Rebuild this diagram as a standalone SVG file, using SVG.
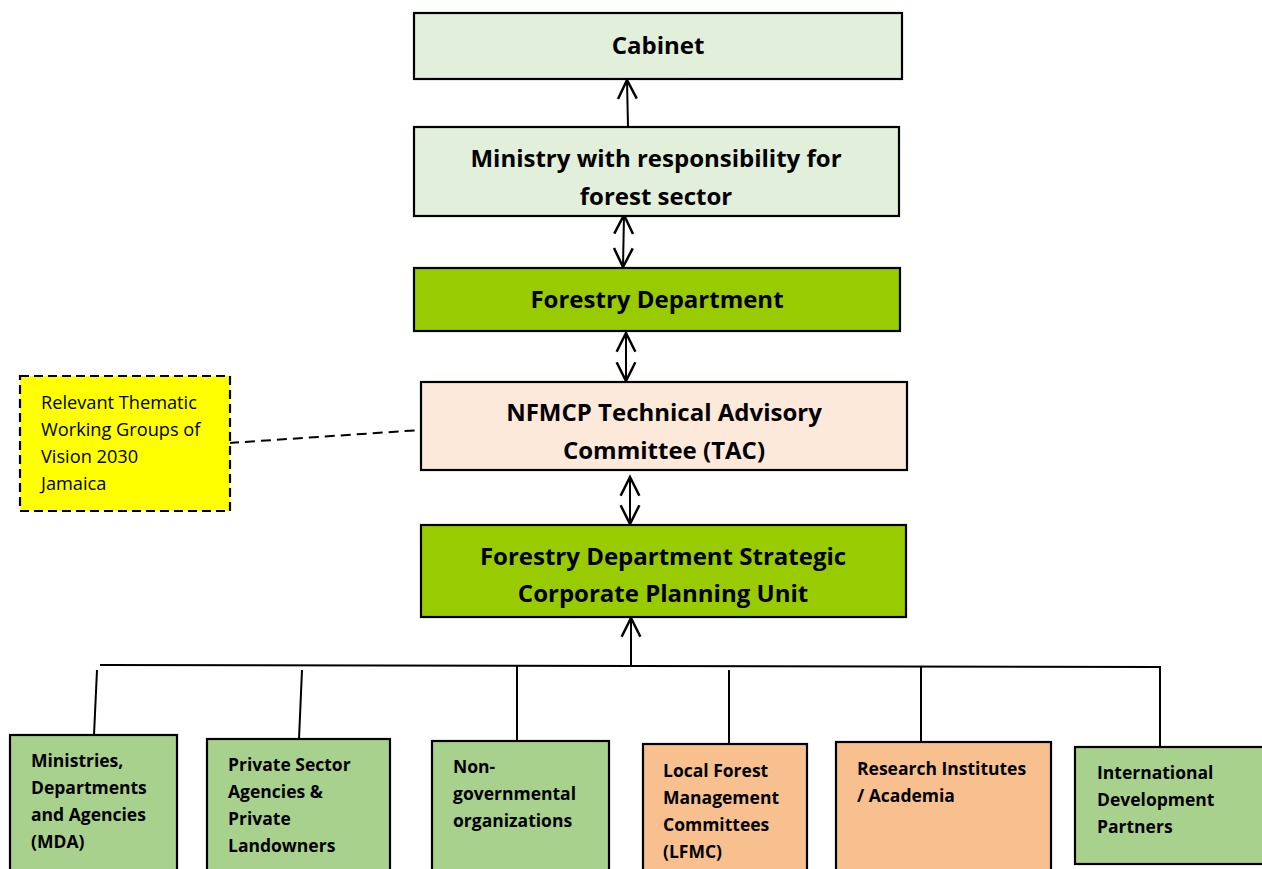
<svg xmlns="http://www.w3.org/2000/svg" width="1262" height="869" viewBox="0 0 1262 869">
<defs>
<marker id="ah" markerUnits="userSpaceOnUse" markerWidth="30" markerHeight="30" viewBox="-20 -12 24 24" refX="0" refY="0" orient="auto-start-reverse">
<path d="M-15,-7.5 L0,0 L-15,7.5" fill="none" stroke="#000" stroke-width="2"/>
</marker>
</defs>
<style>
.box{stroke:#000;stroke-width:2.2}
.pale{fill:#E2EFDA}
.lime{fill:#99CC00}
.peach{fill:#FCE9DA}
.green{fill:#A9D18E}
.orange{fill:#F8C08F}
.t{font-family:"Open Sans","Liberation Sans",sans-serif;font-weight:bold;font-size:24px;fill:#000;text-anchor:middle;dominant-baseline:central}
.s{font-family:"Open Sans","Liberation Sans",sans-serif;font-weight:bold;font-size:17.5px;fill:#000;dominant-baseline:central}
.y{font-family:"Open Sans","Liberation Sans",sans-serif;font-size:18.2px;fill:#000;dominant-baseline:central}
.c{stroke:#000;stroke-width:2;fill:none}
</style>
<g id="connectors">
<line class="c" x1="628" y1="127" x2="627" y2="80" marker-end="url(#ah)"/>
<line class="c" x1="624" y1="215" x2="623" y2="267" marker-start="url(#ah)" marker-end="url(#ah)"/>
<line class="c" x1="626" y1="333" x2="626" y2="381" marker-start="url(#ah)" marker-end="url(#ah)"/>
<line class="c" x1="630" y1="477" x2="630" y2="524" marker-start="url(#ah)" marker-end="url(#ah)"/>
<line class="c" x1="631" y1="666" x2="631" y2="618" marker-end="url(#ah)"/>
<line class="c" x1="229" y1="443" x2="421" y2="430" stroke-dasharray="10,6"/>
<polyline class="c" points="100,665 1160,667 1160,747"/>
<line class="c" x1="97" y1="670" x2="94" y2="735"/>
<line class="c" x1="302" y1="670" x2="299" y2="739"/>
<line class="c" x1="517" y1="666" x2="517" y2="746"/>
<line class="c" x1="729" y1="670" x2="729" y2="744"/>
<line class="c" x1="921" y1="667" x2="921" y2="742"/>
</g>
<g id="cabinet">
<rect class="box pale" x="414" y="13" width="488" height="66"/>
<text class="t" x="658" y="44">Cabinet</text>
</g>
<g id="ministry">
<rect class="box pale" x="414" y="127" width="485" height="89"/>
<text class="t" x="656" y="157">Ministry with responsibility for</text>
<text class="t" x="656" y="195">forest sector</text>
</g>
<g id="forestry-department">
<rect class="box lime" x="414" y="268" width="486" height="63"/>
<text class="t" x="657" y="298">Forestry Department</text>
</g>
<g id="tac">
<rect class="box peach" x="421" y="382" width="486" height="88"/>
<text class="t" x="664" y="411">NFMCP Technical Advisory</text>
<text class="t" x="664" y="449">Committee (TAC)</text>
</g>
<g id="thematic-groups">
<rect x="20" y="376" width="210" height="135" fill="#FFFF00" stroke="#000" stroke-width="2.2" stroke-dasharray="9,5"/>
<text class="y" x="41" y="402">Relevant Thematic</text>
<text class="y" x="41" y="429">Working Groups of</text>
<text class="y" x="41" y="456">Vision 2030</text>
<text class="y" x="41" y="483">Jamaica</text>
</g>
<g id="strategic-unit">
<rect class="box lime" x="421" y="525" width="485" height="92"/>
<text class="t" x="663" y="555">Forestry Department Strategic</text>
<text class="t" x="663" y="592">Corporate Planning Unit</text>
</g>
<g id="mda">
<rect class="box green" x="10" y="735" width="167" height="140"/>
<text class="s" x="31" y="760">Ministries,</text>
<text class="s" x="31" y="787">Departments</text>
<text class="s" x="31" y="814">and Agencies</text>
<text class="s" x="31" y="841">(MDA)</text>
</g>
<g id="private-sector">
<rect class="box green" x="207" y="739" width="183" height="140"/>
<text class="s" x="228" y="764">Private Sector</text>
<text class="s" x="228" y="791">Agencies &amp;</text>
<text class="s" x="228" y="818">Private</text>
<text class="s" x="228" y="845">Landowners</text>
</g>
<g id="ngo">
<rect class="box green" x="432" y="741" width="177" height="140"/>
<text class="s" x="453" y="766">Non-</text>
<text class="s" x="453" y="793">governmental</text>
<text class="s" x="453" y="820">organizations</text>
</g>
<g id="lfmc">
<rect class="box orange" x="643" y="744" width="164" height="140"/>
<text class="s" x="663" y="770">Local Forest</text>
<text class="s" x="663" y="797">Management</text>
<text class="s" x="663" y="824">Committees</text>
<text class="s" x="663" y="851">(LFMC)</text>
</g>
<g id="research">
<rect class="box orange" x="836" y="742" width="215" height="140"/>
<text class="s" x="857" y="768">Research Institutes</text>
<text class="s" x="857" y="795">/ Academia</text>
</g>
<g id="international">
<rect class="box green" x="1075" y="747" width="200" height="117"/>
<text class="s" x="1097" y="772">International</text>
<text class="s" x="1097" y="799">Development</text>
<text class="s" x="1097" y="826">Partners</text>
</g>
</svg>
